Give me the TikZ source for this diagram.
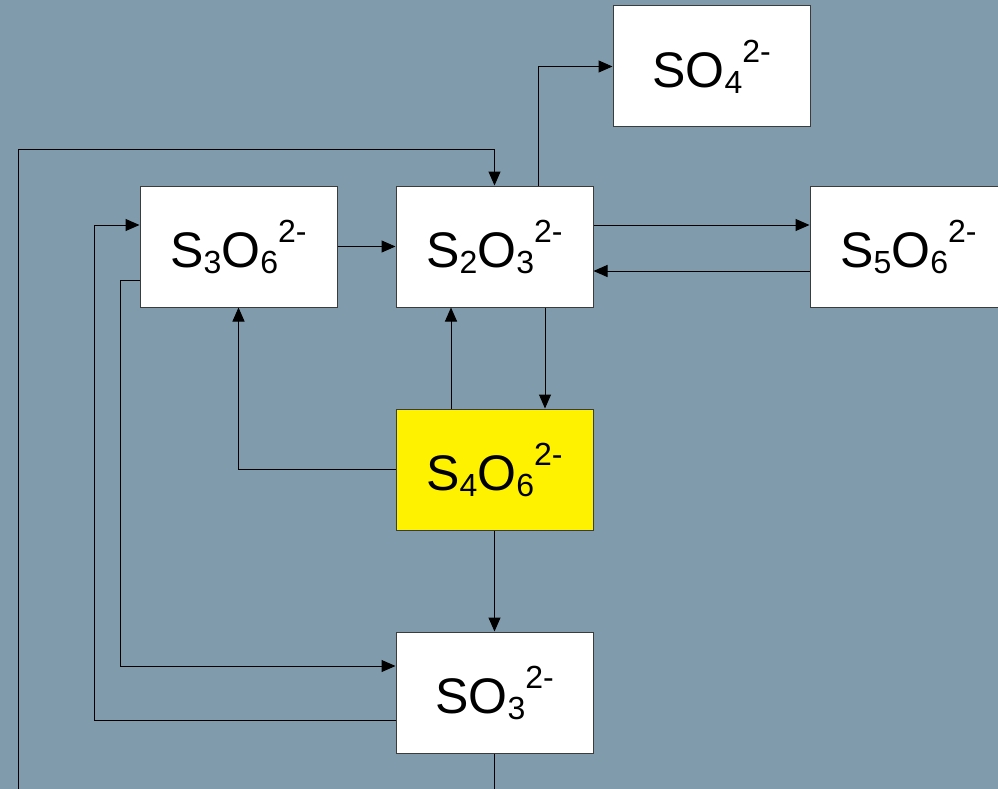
\documentclass[tikz,border=0pt]{standalone}
\usepackage{fontspec}
\setmainfont{Liberation Sans}
\usetikzlibrary{arrows.meta,calc}
\definecolor{bgblue}{RGB}{127,155,172}
\definecolor{boxedge}{RGB}{60,60,60}
\newcommand{\lo}[1]{\raisebox{-6pt}{\fontsize{32}{32}\selectfont #1}}
\newcommand{\hi}[1]{\raisebox{25pt}{\fontsize{32}{32}\selectfont #1}}
\tikzset{
  species/.style={draw=boxedge, line width=1pt, fill=white, minimum width=197pt,
    minimum height=121pt, inner sep=0pt, font=\fontsize{50}{60}\selectfont},
  target/.style={species, fill=yellow},
  arr/.style={draw=black, line width=1pt, -{Triangle[length=14pt,width=12pt]}}
}
\begin{document}
\begin{tikzpicture}[x=1pt,y=-1pt]
  \fill[bgblue] (0,0) rectangle (998,789);
  \useasboundingbox (0,0) rectangle (998,789);
  \clip (0,0) rectangle (998,789);

  % species boxes
  \node[species] (so4)  at (711.5,66.5)  {SO\lo{4}\hi{2-}};
  \node[species] (s3o6) at (238.5,246.5) {S\lo{3}O\lo{6}\hi{2-}};
  \node[species] (s2o3) at (494.5,246.5) {S\lo{2}O\lo{3}\hi{2-}};
  \node[species] (s5o6) at (908.5,246.5) {S\lo{5}O\lo{6}\hi{2-}};
  \node[target]  (s4o6) at (494.5,469.5) {S\lo{4}O\lo{6}\hi{2-}};
  \node[species] (so3)  at (494.5,692.5) {SO\lo{3}\hi{2-}};

  % routing points of the outer loops
  \coordinate (loopA) at (494.5,820);
  \coordinate (loopB) at (18,820);
  \coordinate (loopC) at (18,149);
  \coordinate (leftA) at (120,280);
  \coordinate (leftB) at (94,720);

  % reactions
  \draw[arr] ($(s2o3.north)+(43.5,0)$) |- (so4.west);
  \draw[arr] (s3o6) -- (s2o3);
  \draw[arr] ($(s2o3.east)+(0,-21.5)$) -- ($(s5o6.west)+(0,-21.5)$);
  \draw[arr] ($(s5o6.west)+(0,24.5)$) -- ($(s2o3.east)+(0,24.5)$);
  \draw[arr] ($(s2o3.south)+(50.5,0)$) -- ($(s4o6.north)+(50.5,0)$);
  \draw[arr] ($(s4o6.north)+(-43.5,0)$) -- ($(s2o3.south)+(-43.5,0)$);
  \draw[arr] (s4o6.west) -| (s3o6.south);
  \draw[arr] (s4o6) -- (so3);
  \draw[arr] ($(s3o6.west)+(0,33.5)$) -- (leftA) |- ($(so3.west)+(0,-26.5)$);
  \draw[arr] ($(so3.west)+(0,27.5)$) -- (leftB) |- ($(s3o6.west)+(0,-21.5)$);
  \draw[arr] (so3.south) -- (loopA) -- (loopB) -- (loopC) -| (s2o3.north);
\end{tikzpicture}
\end{document}
